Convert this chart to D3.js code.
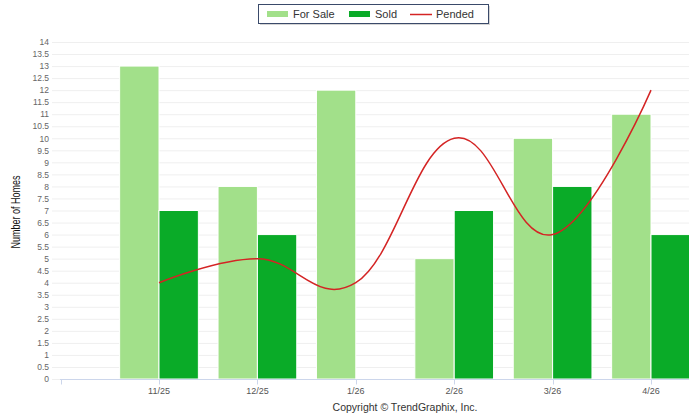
<!DOCTYPE html>
<html>
<head>
<meta charset="utf-8">
<script src="https://cdn.jsdelivr.net/npm/d3@7"></script>
<style>
body{margin:0;background:#fff;}
svg{display:block;font-family:"Liberation Sans",Arial,sans-serif;}
</style>
</head>
<body>
<svg id="chart"></svg>
<script>
var months=["11/25","12/25","1/26","2/26","3/26","4/26"];
var forSale=[13,8,12,5,10,11];
var sold=[7,6,0,7,8,6];
var pended=[4,5,4,10,6,12];
var yTicks=d3.range(0,14.01,0.5);

var w=689,h=415;
var svg=d3.select("#chart").attr("width",w).attr("height",h);

// first slot on the axis is left empty, like the original
var xScale=d3.scalePoint()
             .domain([""].concat(months))
             .range([60.6,651]);
var step=xScale.step();
var barW=step*0.4;
var yScale=d3.scaleLinear()
             .domain([0,14])
             .range([379,42]);

// grid
svg.append("g").selectAll("line")
   .data(yTicks)
   .enter().append("line")
   .attr("x1",52).attr("x2",w)
   .attr("y1",function(d){return yScale(d)+0.5;})
   .attr("y2",function(d){return yScale(d)+0.5;})
   .attr("stroke","#efefef").attr("stroke-width",1);

// y labels
var yAxis=d3.axisLeft(yScale).tickValues(yTicks).tickSize(0).tickPadding(0)
            .tickFormat(function(d){return d3.format("~g")(d);});
var yg=svg.append("g").attr("transform","translate(49,0)").call(yAxis);
yg.select(".domain").remove();
yg.selectAll("text").attr("fill","#666").style("font-size","8.5px").attr("dy","0.32em");

svg.append("text")
   .attr("transform","translate(20,212) rotate(-90)")
   .attr("text-anchor","middle")
   .attr("textLength",73)
   .attr("lengthAdjust","spacingAndGlyphs")
   .style("font-size","13px")
   .attr("fill","#111")
   .text("Number of Homes");

// bars
svg.append("g").selectAll("rect")
   .data(forSale)
   .enter().append("rect")
   .attr("x",function(d,i){return xScale(months[i])-barW;})
   .attr("y",function(d){return yScale(d);})
   .attr("width",barW)
   .attr("height",function(d){return yScale(0)-yScale(d);})
   .attr("fill","#a2e08a")
   .attr("stroke","#fff").attr("stroke-width",1);
svg.append("g").selectAll("rect")
   .data(sold)
   .enter().append("rect")
   .attr("x",function(d,i){return xScale(months[i]);})
   .attr("y",function(d){return yScale(d);})
   .attr("width",barW)
   .attr("height",function(d){return yScale(0)-yScale(d);})
   .attr("fill","#0aab28")
   .attr("stroke","#fff").attr("stroke-width",1);

// x axis
var xg=svg.append("g").attr("transform","translate(0,379.5)");
xg.append("line").attr("x1",60).attr("x2",w).attr("stroke","#ccd6eb");
xg.selectAll(".tk")
  .data(xScale.domain())
  .enter().append("line")
  .attr("x1",function(d){return Math.round(xScale(d))+0.5;})
  .attr("x2",function(d){return Math.round(xScale(d))+0.5;})
  .attr("y1",0).attr("y2",5)
  .attr("stroke","#ccd6eb");
xg.selectAll("text")
  .data(months)
  .enter().append("text")
  .attr("x",function(d){return xScale(d);})
  .attr("y",14)
  .attr("text-anchor","middle")
  .attr("fill","#555")
  .style("font-size","9px")
  .text(function(d){return d;});

// pended line
var line=d3.line()
           .x(function(d,i){return xScale(months[i]);})
           .y(function(d){return yScale(d);})
           .curve(d3.curveCardinal.tension(-0.2));
svg.append("path")
   .datum(pended)
   .attr("d",line)
   .attr("fill","none")
   .attr("stroke","#d42424")
   .attr("stroke-width",1.5);

// legend
var lg=svg.append("g");
lg.append("rect").attr("x",260).attr("y",6).attr("width",230).attr("height",19)
  .attr("fill","#888").attr("opacity",0.35);
lg.append("rect").attr("x",258.5).attr("y",4.5).attr("width",230).attr("height",19)
  .attr("fill","#fff").attr("stroke","#3a4a6a").attr("stroke-width",1);
lg.append("rect").attr("x",267).attr("y",11).attr("width",21).attr("height",6).attr("fill","#a2e08a");
lg.append("text").attr("x",293).attr("y",18).text("For Sale");
lg.append("rect").attr("x",349).attr("y",11).attr("width",21).attr("height",6).attr("fill","#0aab28");
lg.append("text").attr("x",375).attr("y",18).text("Sold");
lg.append("line").attr("x1",410).attr("x2",432).attr("y1",14.5).attr("y2",14.5)
  .attr("stroke","#d42424").attr("stroke-width",1.5);
lg.selectAll("text").style("font-size","11px").attr("fill","#333");
lg.append("text").attr("x",436).attr("y",18).style("font-size","11px").attr("fill","#333").text("Pended");

svg.append("text")
   .attr("x",405).attr("y",411)
   .attr("text-anchor","middle")
   .style("font-size","10.5px")
   .attr("fill","#333")
   .text("Copyright \u00a9 TrendGraphix, Inc.");
</script>
</body>
</html>
